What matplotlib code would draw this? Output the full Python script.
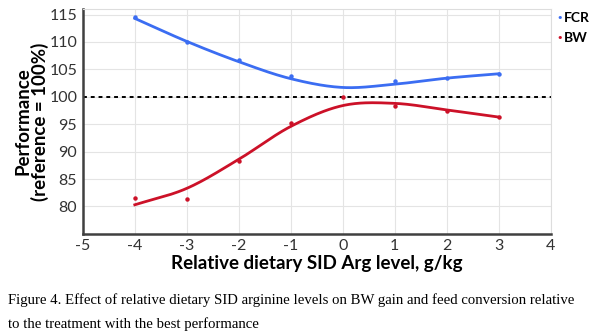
import matplotlib
matplotlib.use("Agg")
import matplotlib.pyplot as plt
import numpy as np

plt.rcParams["axes.unicode_minus"] = False

# measured points
x_fcr = [-4, -3, -2, -1, 1, 2, 3]
fcr = [114.5, 110.0, 106.8, 103.8, 102.8, 103.5, 104.2]
x_bw = [-4, -3, -2, -1, 0, 1, 2, 3]
bw = [81.5, 81.3, 88.3, 95.2, 100.0, 98.3, 97.4, 96.3]

# fitted trend values read at each level
x_trend = [-4, -3, -2, -1, 0, 1, 2, 3]
fcr_trend = [114.3, 110.1, 106.4, 103.3, 101.7, 102.3, 103.4, 104.2]
bw_trend = [80.3, 83.3, 88.6, 94.6, 98.4, 98.8, 97.6, 96.3]

caption = ("Figure 4. Effect of relative dietary SID arginine levels on BW gain and feed conversion relative\n"
           "to the treatment with the best performance")


def smooth(xk, yk, n=30):
    # Catmull-Rom curve through the trend values
    xk = np.asarray(xk, float)
    yk = np.asarray(yk, float)
    m = np.gradient(yk, xk)
    xs, ys = [], []
    for i in range(len(xk) - 1):
        h = xk[i + 1] - xk[i]
        t = np.linspace(0, 1, n, endpoint=(i == len(xk) - 2))
        h00 = 2 * t**3 - 3 * t**2 + 1
        h10 = t**3 - 2 * t**2 + t
        h01 = -2 * t**3 + 3 * t**2
        h11 = t**3 - t**2
        xs.append(xk[i] + t * h)
        ys.append(h00 * yk[i] + h10 * h * m[i] + h01 * yk[i + 1] + h11 * h * m[i + 1])
    return np.concatenate(xs), np.concatenate(ys)


blue = "#3b6df2"
red = "#cc1128"

fig = plt.figure(figsize=(6, 3.36), dpi=100)
ax = fig.add_axes([0.138, 0.304, 0.78, 0.669])

ax.axhline(100, color="black", lw=1.4, ls=(0, (2, 2)), zorder=2)

sx, sy = smooth(x_trend, fcr_trend)
ax.plot(sx, sy, color=blue, lw=2, zorder=3)
sx, sy = smooth(x_trend, bw_trend)
ax.plot(sx, sy, color=red, lw=2, zorder=3)
ax.plot(x_fcr, fcr, "o", color=blue, ms=2.2, zorder=4)
ax.plot(x_bw, bw, "o", color=red, ms=2.2, zorder=4)

ax.set_xlim(-5, 4)
ax.set_ylim(75, 116)
ax.set_xticks(range(-5, 5))
ax.set_yticks(range(80, 116, 5))
ax.grid(True, color="#e4e4e4", lw=0.8)
ax.set_axisbelow(True)
for s in ["top", "right"]:
    ax.spines[s].set_color("#dddddd")
    ax.spines[s].set_linewidth(0.8)
for s in ["left", "bottom"]:
    ax.spines[s].set_color("#404040")
    ax.spines[s].set_linewidth(1.8)
ax.tick_params(length=0, labelsize=11.5, colors="#333333", pad=4)
for lbl in ax.get_xticklabels() + ax.get_yticklabels():
    lbl.set_family("Lato")

ax.set_xlabel("Relative dietary SID Arg level, g/kg", fontsize=13.5, fontweight="bold",
              family="Lato", labelpad=1)
ax.set_ylabel("Performance\n(reference = 100%)", fontsize=13.5, fontweight="bold",
              family="Lato", labelpad=0, linespacing=1.0)

# legend at top right
fig.text(0.927, 0.945, "\u2022", color=blue, fontsize=8, va="center")
fig.text(0.940, 0.945, "FCR", color="black", fontsize=10, fontweight="bold", family="Lato", va="center")
fig.text(0.927, 0.888, "\u2022", color=red, fontsize=8, va="center")
fig.text(0.940, 0.888, "BW", color="black", fontsize=10, fontweight="bold", family="Lato", va="center")

fig.text(0.013, 0.015, caption, fontsize=10.6, family="Liberation Serif", linespacing=1.95,
         va="bottom", ha="left")

fig.savefig("out.png", dpi=100)
